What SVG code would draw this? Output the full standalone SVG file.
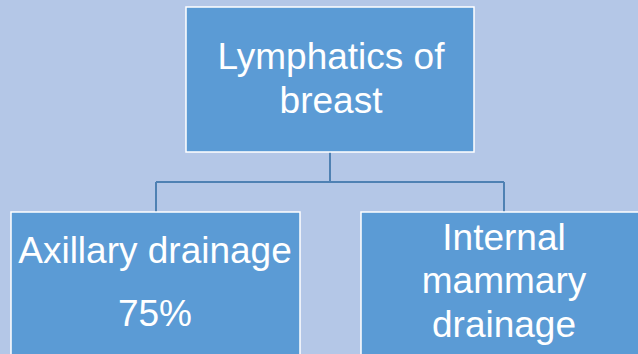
<svg xmlns="http://www.w3.org/2000/svg" width="638" height="354" viewBox="0 0 638 354">
<style>
.box{fill:#5b9bd5;stroke:#ffffff;stroke-width:1.5}
.t{font-family:"Liberation Sans",Arial,sans-serif;font-size:37px;fill:#ffffff;text-anchor:middle}
.c{fill:none;stroke:#4f81b3;stroke-width:2}
</style>
<rect width="638" height="354" fill="#b4c7e7"/>
<g id="connectors">
<path class="c" d="M330 152V182M156 182H504M156 182V212M504 182V212"/>
</g>
<g id="root">
<rect class="box" x="186" y="7" width="288" height="145"/>
<text class="t" x="331" y="69">Lymphatics of</text>
<text class="t" x="331" y="113">breast</text>
</g>
<g id="axillary">
<rect class="box" x="11" y="212" width="289" height="160"/>
<text class="t" x="155" y="263">Axillary drainage</text>
<text class="t" x="155" y="326">75%</text>
</g>
<g id="internal">
<rect class="box" x="361" y="212" width="290" height="160"/>
<text class="t" x="504" y="250">Internal</text>
<text class="t" x="504" y="293">mammary</text>
<text class="t" x="504" y="337">drainage</text>
</g>
</svg>
